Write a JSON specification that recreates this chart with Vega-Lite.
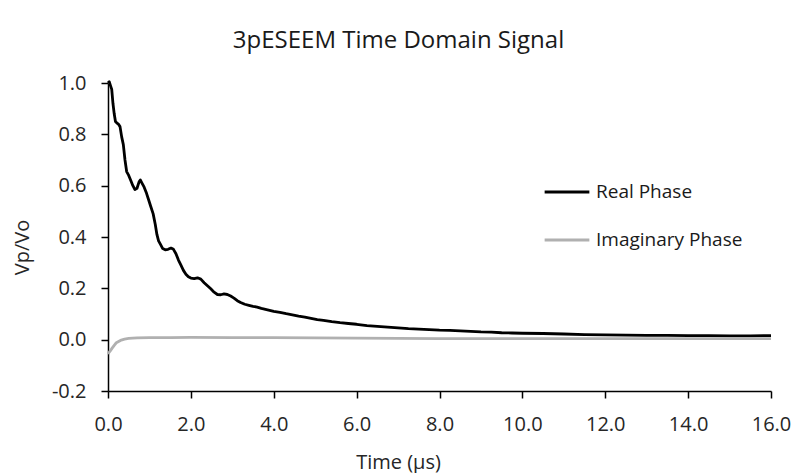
{
  "$schema": "https://vega.github.io/schema/vega-lite/v6.json",
  "width": 663,
  "height": 308,
  "autosize": {"type": "none"},
  "padding": {"left": 108, "top": 83, "right": 24, "bottom": 82},
  "background": "white",
  "title": {
    "text": "3pESEEM Time Domain Signal",
    "font": "Open Sans",
    "fontSize": 24,
    "fontWeight": "normal",
    "color": "#1a1a1a",
    "anchor": "middle",
    "dx": -41,
    "offset": 20
  },
  "config": {
    "view": {"stroke": null},
    "font": "Open Sans",
    "axis": {
      "grid": false,
      "domainColor": "#000000",
      "domainWidth": 1.5,
      "tickColor": "#000000",
      "tickWidth": 1.5,
      "tickSize": 7,
      "labelFont": "Open Sans",
      "labelFontSize": 20,
      "labelColor": "#262626",
      "titleFont": "Open Sans",
      "titleFontSize": 20,
      "titleFontWeight": "normal",
      "titleColor": "#262626"
    },
    "legend": {
      "labelFont": "Open Sans",
      "labelFontSize": 19,
      "labelColor": "#1a1a1a"
    }
  },
  "data": {
    "values": [
      {"t": 0.00, "v": 1.000, "series": "Real Phase"},
      {"t": 0.03, "v": 1.005, "series": "Real Phase"},
      {"t": 0.06, "v": 0.990, "series": "Real Phase"},
      {"t": 0.09, "v": 0.975, "series": "Real Phase"},
      {"t": 0.12, "v": 0.920, "series": "Real Phase"},
      {"t": 0.15, "v": 0.880, "series": "Real Phase"},
      {"t": 0.18, "v": 0.850, "series": "Real Phase"},
      {"t": 0.21, "v": 0.845, "series": "Real Phase"},
      {"t": 0.25, "v": 0.840, "series": "Real Phase"},
      {"t": 0.29, "v": 0.830, "series": "Real Phase"},
      {"t": 0.33, "v": 0.790, "series": "Real Phase"},
      {"t": 0.37, "v": 0.760, "series": "Real Phase"},
      {"t": 0.41, "v": 0.700, "series": "Real Phase"},
      {"t": 0.45, "v": 0.655, "series": "Real Phase"},
      {"t": 0.50, "v": 0.640, "series": "Real Phase"},
      {"t": 0.55, "v": 0.620, "series": "Real Phase"},
      {"t": 0.60, "v": 0.600, "series": "Real Phase"},
      {"t": 0.65, "v": 0.585, "series": "Real Phase"},
      {"t": 0.70, "v": 0.590, "series": "Real Phase"},
      {"t": 0.75, "v": 0.615, "series": "Real Phase"},
      {"t": 0.78, "v": 0.622, "series": "Real Phase"},
      {"t": 0.82, "v": 0.610, "series": "Real Phase"},
      {"t": 0.87, "v": 0.595, "series": "Real Phase"},
      {"t": 0.93, "v": 0.570, "series": "Real Phase"},
      {"t": 0.98, "v": 0.545, "series": "Real Phase"},
      {"t": 1.03, "v": 0.520, "series": "Real Phase"},
      {"t": 1.09, "v": 0.490, "series": "Real Phase"},
      {"t": 1.14, "v": 0.450, "series": "Real Phase"},
      {"t": 1.18, "v": 0.410, "series": "Real Phase"},
      {"t": 1.22, "v": 0.385, "series": "Real Phase"},
      {"t": 1.27, "v": 0.370, "series": "Real Phase"},
      {"t": 1.32, "v": 0.355, "series": "Real Phase"},
      {"t": 1.38, "v": 0.350, "series": "Real Phase"},
      {"t": 1.45, "v": 0.352, "series": "Real Phase"},
      {"t": 1.52, "v": 0.357, "series": "Real Phase"},
      {"t": 1.58, "v": 0.352, "series": "Real Phase"},
      {"t": 1.64, "v": 0.335, "series": "Real Phase"},
      {"t": 1.70, "v": 0.310, "series": "Real Phase"},
      {"t": 1.76, "v": 0.290, "series": "Real Phase"},
      {"t": 1.82, "v": 0.270, "series": "Real Phase"},
      {"t": 1.88, "v": 0.255, "series": "Real Phase"},
      {"t": 1.94, "v": 0.245, "series": "Real Phase"},
      {"t": 2.00, "v": 0.240, "series": "Real Phase"},
      {"t": 2.08, "v": 0.238, "series": "Real Phase"},
      {"t": 2.16, "v": 0.241, "series": "Real Phase"},
      {"t": 2.24, "v": 0.236, "series": "Real Phase"},
      {"t": 2.32, "v": 0.222, "series": "Real Phase"},
      {"t": 2.40, "v": 0.210, "series": "Real Phase"},
      {"t": 2.48, "v": 0.198, "series": "Real Phase"},
      {"t": 2.56, "v": 0.185, "series": "Real Phase"},
      {"t": 2.64, "v": 0.176, "series": "Real Phase"},
      {"t": 2.72, "v": 0.175, "series": "Real Phase"},
      {"t": 2.80, "v": 0.178, "series": "Real Phase"},
      {"t": 2.88, "v": 0.176, "series": "Real Phase"},
      {"t": 2.96, "v": 0.170, "series": "Real Phase"},
      {"t": 3.04, "v": 0.162, "series": "Real Phase"},
      {"t": 3.12, "v": 0.152, "series": "Real Phase"},
      {"t": 3.20, "v": 0.145, "series": "Real Phase"},
      {"t": 3.30, "v": 0.138, "series": "Real Phase"},
      {"t": 3.40, "v": 0.134, "series": "Real Phase"},
      {"t": 3.50, "v": 0.130, "series": "Real Phase"},
      {"t": 3.60, "v": 0.127, "series": "Real Phase"},
      {"t": 3.70, "v": 0.122, "series": "Real Phase"},
      {"t": 3.80, "v": 0.118, "series": "Real Phase"},
      {"t": 3.90, "v": 0.114, "series": "Real Phase"},
      {"t": 4.00, "v": 0.110, "series": "Real Phase"},
      {"t": 4.15, "v": 0.106, "series": "Real Phase"},
      {"t": 4.30, "v": 0.101, "series": "Real Phase"},
      {"t": 4.45, "v": 0.097, "series": "Real Phase"},
      {"t": 4.60, "v": 0.092, "series": "Real Phase"},
      {"t": 4.75, "v": 0.088, "series": "Real Phase"},
      {"t": 4.90, "v": 0.083, "series": "Real Phase"},
      {"t": 5.05, "v": 0.078, "series": "Real Phase"},
      {"t": 5.20, "v": 0.075, "series": "Real Phase"},
      {"t": 5.40, "v": 0.070, "series": "Real Phase"},
      {"t": 5.60, "v": 0.066, "series": "Real Phase"},
      {"t": 5.80, "v": 0.063, "series": "Real Phase"},
      {"t": 6.00, "v": 0.060, "series": "Real Phase"},
      {"t": 6.25, "v": 0.055, "series": "Real Phase"},
      {"t": 6.50, "v": 0.052, "series": "Real Phase"},
      {"t": 6.75, "v": 0.049, "series": "Real Phase"},
      {"t": 7.00, "v": 0.046, "series": "Real Phase"},
      {"t": 7.25, "v": 0.043, "series": "Real Phase"},
      {"t": 7.50, "v": 0.041, "series": "Real Phase"},
      {"t": 7.75, "v": 0.039, "series": "Real Phase"},
      {"t": 8.00, "v": 0.037, "series": "Real Phase"},
      {"t": 8.25, "v": 0.036, "series": "Real Phase"},
      {"t": 8.50, "v": 0.034, "series": "Real Phase"},
      {"t": 8.75, "v": 0.032, "series": "Real Phase"},
      {"t": 9.00, "v": 0.030, "series": "Real Phase"},
      {"t": 9.25, "v": 0.029, "series": "Real Phase"},
      {"t": 9.50, "v": 0.027, "series": "Real Phase"},
      {"t": 9.75, "v": 0.026, "series": "Real Phase"},
      {"t": 10.0, "v": 0.025, "series": "Real Phase"},
      {"t": 10.5, "v": 0.024, "series": "Real Phase"},
      {"t": 11.0, "v": 0.022, "series": "Real Phase"},
      {"t": 11.5, "v": 0.020, "series": "Real Phase"},
      {"t": 12.0, "v": 0.019, "series": "Real Phase"},
      {"t": 12.5, "v": 0.018, "series": "Real Phase"},
      {"t": 13.0, "v": 0.017, "series": "Real Phase"},
      {"t": 13.5, "v": 0.017, "series": "Real Phase"},
      {"t": 14.0, "v": 0.016, "series": "Real Phase"},
      {"t": 14.5, "v": 0.016, "series": "Real Phase"},
      {"t": 15.0, "v": 0.015, "series": "Real Phase"},
      {"t": 15.5, "v": 0.015, "series": "Real Phase"},
      {"t": 16.0, "v": 0.016, "series": "Real Phase"},
      {"t": 0.00, "v": -0.055, "series": "Imaginary Phase"},
      {"t": 0.05, "v": -0.045, "series": "Imaginary Phase"},
      {"t": 0.10, "v": -0.033, "series": "Imaginary Phase"},
      {"t": 0.15, "v": -0.022, "series": "Imaginary Phase"},
      {"t": 0.20, "v": -0.012, "series": "Imaginary Phase"},
      {"t": 0.30, "v": -0.003, "series": "Imaginary Phase"},
      {"t": 0.40, "v": 0.002, "series": "Imaginary Phase"},
      {"t": 0.50, "v": 0.005, "series": "Imaginary Phase"},
      {"t": 0.70, "v": 0.007, "series": "Imaginary Phase"},
      {"t": 1.00, "v": 0.008, "series": "Imaginary Phase"},
      {"t": 1.50, "v": 0.008, "series": "Imaginary Phase"},
      {"t": 2.00, "v": 0.009, "series": "Imaginary Phase"},
      {"t": 3.00, "v": 0.008, "series": "Imaginary Phase"},
      {"t": 4.00, "v": 0.008, "series": "Imaginary Phase"},
      {"t": 5.00, "v": 0.007, "series": "Imaginary Phase"},
      {"t": 6.00, "v": 0.006, "series": "Imaginary Phase"},
      {"t": 7.00, "v": 0.005, "series": "Imaginary Phase"},
      {"t": 8.00, "v": 0.004, "series": "Imaginary Phase"},
      {"t": 10.0, "v": 0.004, "series": "Imaginary Phase"},
      {"t": 12.0, "v": 0.004, "series": "Imaginary Phase"},
      {"t": 14.0, "v": 0.004, "series": "Imaginary Phase"},
      {"t": 16.0, "v": 0.004, "series": "Imaginary Phase"}
    ]
  },
  "mark": {"type": "line", "strokeWidth": 2.8, "strokeJoin": "round"},
  "encoding": {
    "x": {
      "field": "t",
      "type": "quantitative",
      "scale": {"domain": [0, 16], "nice": false, "zero": false},
      "axis": {
        "values": [0, 2, 4, 6, 8, 10, 12, 14, 16],
        "format": ".1f",
        "labelPadding": 16,
        "labelFlush": false,
        "title": "Time (µs)",
        "titleX": 290,
        "titleY": 71,
        "titleBaseline": "middle"
      }
    },
    "y": {
      "field": "v",
      "type": "quantitative",
      "scale": {"domain": [-0.2, 1.0], "nice": false, "zero": false},
      "axis": {
        "values": [-0.2, 0, 0.2, 0.4, 0.6, 0.8, 1.0],
        "format": ".1f",
        "labelExpr": "replace(datum.label, '\u2212', '-')",
        "labelPadding": 15,
        "labelFlush": false,
        "title": "Vp/Vo",
        "titleX": -86,
        "titleY": 164,
        "titleBaseline": "middle",
        "titleAngle": -90
      }
    },
    "color": {
      "field": "series",
      "type": "nominal",
      "scale": {"domain": ["Real Phase", "Imaginary Phase"], "range": ["#000000", "#b0b0b0"]},
      "legend": {
        "title": null,
        "orient": "none",
        "legendX": 435,
        "legendY": 85,
        "symbolType": "stroke",
        "symbolSize": 2000,
        "symbolStrokeWidth": 3,
        "labelOffset": 5,
        "rowPadding": 14
      }
    },
    "order": {"field": "t", "type": "quantitative"}
  }
}
